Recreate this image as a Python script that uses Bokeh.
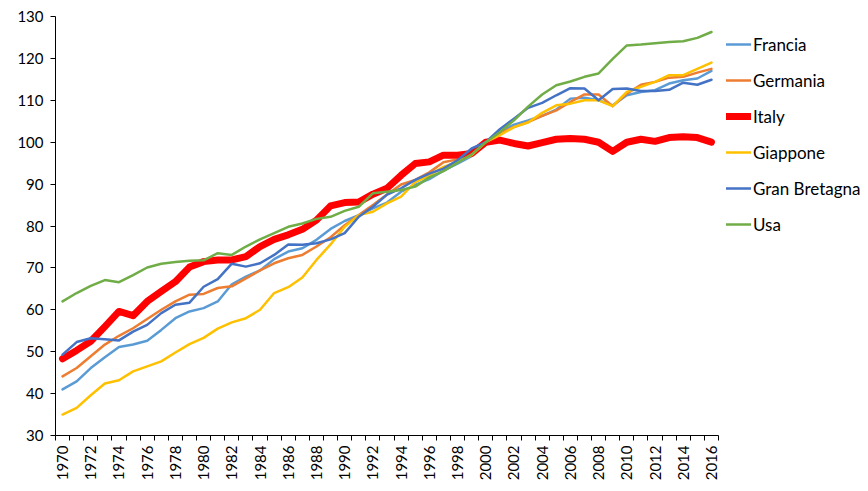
import math
from bokeh.plotting import figure
from bokeh.models import Range1d, FixedTicker, Legend, LegendItem, ColumnDataSource
from bokeh.embed import file_html
from bokeh.resources import INLINE

years = list(range(1970, 2017))
tick_years = list(range(1970, 2017, 2))

francia = [41, 42.9, 46.1, 48.7, 51.1, 51.7, 52.6, 55.2, 58, 59.6,
           60.4, 62, 66.1, 67.9, 69.4, 72.1, 73.9, 74.7, 76.7, 79.3,
           81.2, 82.6, 84.2, 85.6, 88.2, 89.8, 91.2, 93.2, 94.9, 96.7,
           100, 102.3, 104.2, 105.2, 106.3, 107.8, 110.4, 110.6, 110, 108.8,
           111.2, 112, 112.4, 114, 114.8, 115.2, 117]
germania = [44.1, 46.1, 48.9, 51.7, 53.8, 55.6, 57.8, 60, 62, 63.6,
            63.8, 65.2, 65.6, 67.5, 69.4, 71.1, 72.3, 73.1, 75.1, 77.3,
            80.2, 82.6, 85, 87.5, 89.9, 91, 92.8, 95.2, 95.9, 97.7,
            100, 102.1, 103.6, 104.8, 106.3, 107.6, 109.6, 111.4, 111.4, 108.6,
            111.6, 113.7, 114.4, 115.4, 115.6, 116.6, 117.5]
italy = [48.3, 50.3, 52.5, 56, 59.6, 58.6, 62, 64.4, 66.7, 70.2,
         71.5, 71.9, 71.9, 72.7, 75.1, 76.8, 77.9, 79.2, 81.4, 84.8,
         85.6, 85.7, 87.6, 89, 92.1, 94.9, 95.3, 96.9, 96.9, 97.3,
         100, 100.5, 99.7, 99.1, 99.9, 100.7, 100.9, 100.7, 100, 97.8,
         100, 100.7, 100.2, 101.1, 101.3, 101.1, 100]
giappone = [35, 36.6, 39.6, 42.4, 43.2, 45.3, 46.5, 47.7, 49.8, 51.8,
            53.3, 55.5, 57, 58, 60, 64, 65.4, 67.7, 71.9, 75.6,
            79.8, 82.6, 83.4, 85.4, 87, 90.5, 92.1, 94.1, 95.3, 96.9,
            100, 101.7, 103.6, 104.7, 107, 108.8, 109.2, 110, 110, 108.6,
            112, 113.2, 114.4, 116, 116, 117.5, 119]
gran_bretagna = [49.3, 52.3, 53.2, 53, 52.7, 54.8, 56.4, 59.2, 61.2, 61.7,
                 65.5, 67.3, 71, 70.3, 71.1, 73.1, 75.6, 75.5, 75.9, 76.8,
                 78.3, 82.2, 84.6, 87.5, 89, 91, 92.5, 93.7, 95.7, 98.5,
                 100, 103.1, 105.6, 108.2, 109.4, 111.2, 112.9, 112.8, 110, 112.7,
                 112.8, 112.2, 112.2, 112.5, 114.2, 113.7, 114.9]
usa = [62, 64, 65.7, 67.1, 66.6, 68.3, 70.1, 71, 71.4, 71.7,
       71.8, 73.5, 73.1, 75.1, 76.8, 78.3, 79.8, 80.6, 81.7, 82.2,
       83.6, 84.6, 87.8, 88.2, 88.6, 89.4, 91.6, 93.1, 95.1, 97.1,
       100, 102.4, 105.2, 108.5, 111.4, 113.6, 114.5, 115.6, 116.4, 119.9,
       123.1, 123.3, 123.6, 123.9, 124.1, 124.9, 126.3]

series_names = ["Francia", "Germania", "Italy", "Giappone", "Gran Bretagna", "Usa"]
series_values = [francia, germania, italy, giappone, gran_bretagna, usa]
series_colors = ["#5B9BD5", "#ED7D31", "#FF0000", "#FFC000", "#4472C4", "#70AD47"]
series_widths = [2.5, 2.5, 7, 2.5, 2.5, 2.5]

FONT = "Lato"

W, H = 868, 483
LEFT, TOP, BOTTOM = 55, 16, 47
AXIS_W = 663          # pixel width of the category axis
FRAME_W = W - LEFT    # frame extends under the legend
x0 = years[0] - 0.5
x1 = years[-1] + 0.5
x_end = x0 + (x1 - x0) * FRAME_W / AXIS_W

p = figure(width=W, height=H, output_backend="svg", toolbar_location=None,
           x_range=Range1d(x0, x_end),
           y_range=Range1d(30, 130),
           min_border_left=LEFT, min_border_right=0,
           min_border_top=TOP, min_border_bottom=BOTTOM)
p.outline_line_color = None
p.background_fill_color = "white"
p.border_fill_color = "white"
p.xgrid.visible = False
p.ygrid.visible = False

items = []
for name, vals, col, w in zip(series_names, series_values, series_colors, series_widths):
    src = ColumnDataSource(dict(x=years, y=vals))
    r = p.line("x", "y", source=src, line_color=col, line_width=w,
               line_join="round", line_cap="round")
    items.append(LegendItem(label=name, renderers=[r]))

# x axis
xa = p.xaxis[0]
xa.bounds = (x0, x1)
xa.ticker = FixedTicker(ticks=tick_years,
                        minor_ticks=[y - 0.5 for y in years] + [x1])
xa.major_label_orientation = math.pi / 2
xa.major_tick_line_color = None
xa.major_tick_out = 5
xa.major_tick_in = 0
xa.minor_tick_out = 5
xa.minor_tick_in = 0
xa.minor_tick_line_color = "#000000"
xa.axis_line_color = "#000000"
xa.major_label_text_font = FONT
xa.major_label_text_font_size = "15px"
xa.major_label_text_color = "#000000"
xa.major_label_standoff = 5

ya = p.yaxis[0]
ya.ticker = FixedTicker(ticks=list(range(30, 131, 10)))
ya.minor_tick_line_color = None
ya.major_tick_out = 5
ya.major_tick_in = 0
ya.major_tick_line_color = "#000000"
ya.axis_line_color = "#000000"
ya.major_label_text_font = FONT
ya.major_label_text_font_size = "15px"
ya.major_label_text_color = "#000000"
ya.major_label_standoff = 7

legend = Legend(items=items, location=(AXIS_W + 8, 193))
legend.border_line_color = None
legend.background_fill_alpha = 0
legend.margin = 0
legend.padding = 9
legend.glyph_width = 25
legend.glyph_height = 36
legend.label_height = 36
legend.spacing = 0
legend.label_standoff = 2
legend.label_text_font = FONT
legend.label_text_font_size = "17px"
legend.label_text_color = "#000000"
p.add_layout(legend, "center")

open("out.html", "w").write(file_html(p, INLINE))
